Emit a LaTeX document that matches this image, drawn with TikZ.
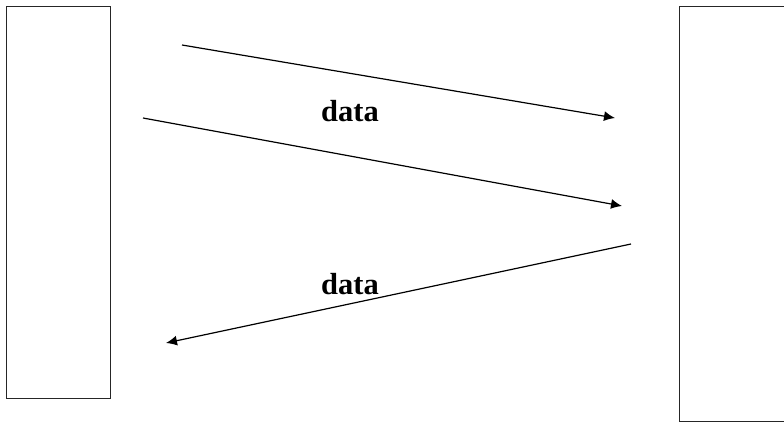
\documentclass[tikz,border=0pt]{standalone}
\usepackage{fontspec}
\setmainfont{Liberation Serif}
\usetikzlibrary{arrows.meta}
\begin{document}
\begin{tikzpicture}[x=1pt,y=-1pt,
  box/.style={draw=black!85,line width=1.2pt,inner sep=0pt,anchor=north west},
  msg/.style={line width=1.2pt,-{Latex[length=11pt,width=10pt]}},
  lbl/.style={font=\bfseries\fontsize{30.5}{36}\selectfont,anchor=base,inner sep=0pt}]
\useasboundingbox (0,0) rectangle (784,422);
\node[box,minimum width=104pt,minimum height=392pt] (left) at (6,6) {};
\node[box,minimum width=120pt,minimum height=415pt] (right) at (679,6) {};
\coordinate (a1) at (182,45);  \coordinate (b1) at (615,118);
\coordinate (a2) at (143,118); \coordinate (b2) at (622,206);
\coordinate (a3) at (631,244); \coordinate (b3) at (166,343);
\draw[msg] (a1) -- (b1);
\draw[msg] (a2) -- (b2);
\draw[msg] (a3) -- (b3);
\node[lbl] (d1) at (350,122) {data};
\node[lbl] (d2) at (350,294) {data};
\end{tikzpicture}
\end{document}
